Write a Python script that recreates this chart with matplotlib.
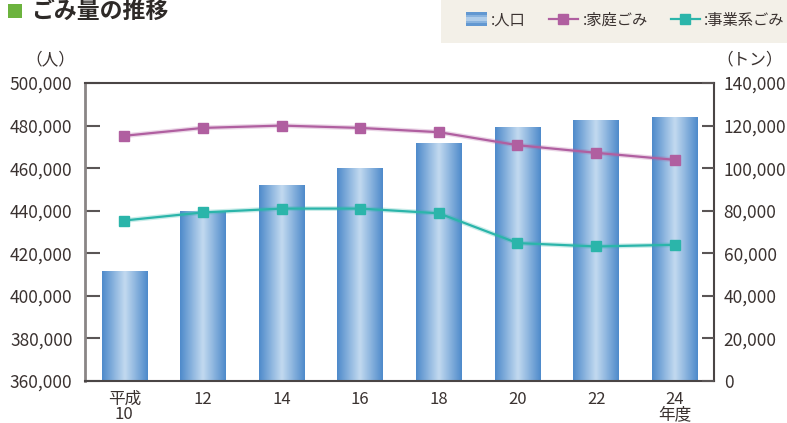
import numpy as np
import matplotlib
matplotlib.use('Agg')
import matplotlib.pyplot as plt
from matplotlib.patches import Rectangle, Patch
from matplotlib.lines import Line2D
from matplotlib.colors import LinearSegmentedColormap
from matplotlib.legend_handler import HandlerPatch

plt.rcParams['font.family'] = ['Noto Sans CJK JP', 'DejaVu Sans']

years = ['平成\n10', '12', '14', '16', '18', '20', '22', '24\n年度']
population = [411500, 439800, 452300, 460300, 472000, 479100, 482400, 484200]
household = [115200, 118900, 120000, 118900, 116900, 110800, 107200, 103900]
business = [75400, 79200, 81000, 81000, 78800, 64800, 63200, 64000]
left_ticks = [360000, 380000, 400000, 420000, 440000, 460000, 480000, 500000]
right_ticks = [0, 20000, 40000, 60000, 80000, 100000, 120000, 140000]

txt = '#3a3230'
purple = '#b05fa0'
teal = '#2bb5aa'
grad = LinearSegmentedColormap.from_list('bar', ['#4f8bcb', '#c3daf0', '#4f8bcb'])

fig = plt.figure(figsize=(7.87, 4.23), dpi=100)
ax = fig.add_axes([85/787, 1-381/423, 629/787, 298/423])
x = np.arange(len(years))

bars = ax.bar(x, population, width=0.58, color='none', edgecolor='none', zorder=2)
g = np.linspace(0, 1, 64).reshape(1, -1)
for b in bars:
    im = ax.imshow(g, cmap=grad, aspect='auto', zorder=2,
                   extent=[b.get_x(), b.get_x()+b.get_width(), 360000, b.get_height()])
    im.set_clip_path(b)
ax.set_xlim(-0.5, 7.5)
ax.set_ylim(360000, 500000)
ax.set_yticks(left_ticks)
ax.set_yticklabels([f'{v:,}' for v in left_ticks])
ax.set_xticks(x)
ax.set_xticklabels(years, linespacing=0.9)
ax.tick_params(axis='y', direction='in', length=11, width=1.5, color='#5a5555',
               labelsize=12.5, labelcolor=txt, pad=9)
ax.tick_params(axis='x', length=0, labelsize=12, labelcolor=txt, pad=7)
for s in ['top', 'right', 'bottom']:
    ax.spines[s].set_color('#4a4545')
    ax.spines[s].set_linewidth(1.5)
ax.spines['left'].set_color('#8a8585')
ax.spines['left'].set_linewidth(2)

ax2 = ax.twinx()
ax2.set_ylim(0, 140000)
ax2.set_yticks(right_ticks)
ax2.set_yticklabels([f'{v:,}' for v in right_ticks])
ax2.tick_params(axis='y', direction='in', length=9, width=1.5, color='#5a5555',
                labelsize=12.5, labelcolor=txt, pad=7)
for s in ax2.spines.values():
    s.set_visible(False)
for vals, c in [(household, purple), (business, teal)]:
    ax2.plot(x, vals, color=c, lw=3.5, alpha=0.25, zorder=3)
    ax2.plot(x, vals, color=c, lw=1.6, marker='s', ms=7, zorder=4)

fig.text(50/787, 1-60/423, '（人）', ha='center', va='center', fontsize=12, color=txt)
fig.text(750/787, 1-60/423, '（トン）', ha='center', va='center', fontsize=12, color=txt)

# title
fig.patches.append(Rectangle((8/787, 1-18/423), 14/787, 14/423, transform=fig.transFigure,
                             facecolor='#6cb33e', edgecolor='none'))
fig.text(31/787, 1-11/423, 'ごみ量の推移', ha='left', va='center', fontsize=16.5,
         fontweight='bold', color='#2e2a28')

# legend box
fig.patches.append(Rectangle((441/787, 1-43/423), 346/787, 43/423, transform=fig.transFigure,
                             facecolor='#f3f0e8', edgecolor='none', zorder=0))


class GradHandler(HandlerPatch):
    def create_artists(self, legend, orig, xd, yd, w, h, fs, trans):
        arts = []
        n = 6
        ww = w * 0.7
        x0 = xd + w - ww
        for i in range(n):
            t = abs((i + 0.5) / n - 0.5) * 2
            c = grad(0.5 - t / 2)
            arts.append(Rectangle((x0, yd - h * 0.1 + h * 1.2 * i / n), ww, h * 1.2 / n + 0.2,
                                  facecolor=c, edgecolor='none', transform=trans))
        return arts


handles = [Patch(facecolor='#7fa9da'),
           Line2D([], [], color=purple, marker='s', ms=7, lw=1.6),
           Line2D([], [], color=teal, marker='s', ms=7, lw=1.6)]
labels = [':人口', ':家庭ごみ', ':事業系ごみ']
leg = fig.legend(handles, labels, loc='center left', bbox_to_anchor=(450/787, 1-20/423),
                 ncol=3, frameon=False, fontsize=11, handlelength=1.9, handletextpad=0.3,
                 columnspacing=1.5, borderpad=0, handler_map={Patch: GradHandler()})
for t in leg.get_texts():
    t.set_color(txt)

fig.savefig('out.png', dpi=100)
